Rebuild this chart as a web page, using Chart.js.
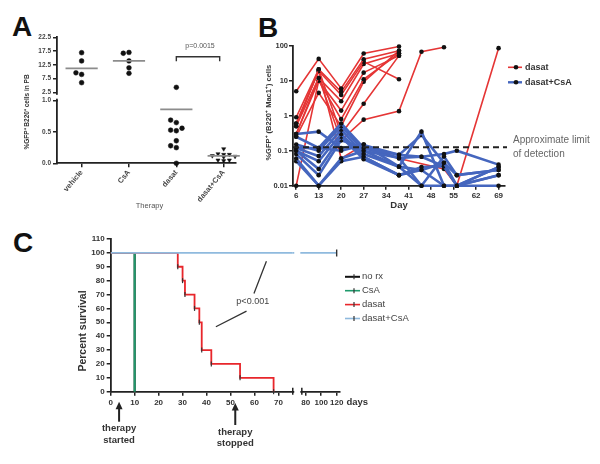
<!DOCTYPE html>
<html><head><meta charset="utf-8">
<script src="https://cdn.jsdelivr.net/npm/chart.js@4.4.0/dist/chart.umd.min.js"></script>
<style>
html,body{margin:0;padding:0;background:#fff;width:600px;height:464px;overflow:hidden;position:relative;font-family:"Liberation Sans",Arial,sans-serif;}
canvas{position:absolute;}
.lbl{position:absolute;font-weight:bold;font-size:28px;color:#111;line-height:1;}
</style></head><body>
<div class="lbl" style="left:12px;top:13px">A</div>
<div class="lbl" style="left:258px;top:14px">B</div>
<div class="lbl" style="left:13px;top:229px">C</div>
<canvas id="cA" width="245" height="225" style="left:0;top:0"></canvas>
<canvas id="cB" width="360" height="220" style="left:240px;top:0"></canvas>
<canvas id="cC" width="600" height="244" style="left:0;top:220px"></canvas>
<script>
// ---------- Panel A data ----------
const categoriesA = ['vehicle', 'CsA', 'dasat', 'dasat+CsA'];
const vehicleA = [16.9, 13.9, 9.0, 9.6, 6.0];
const csaA = [17.0, 16.7, 13.9, 11.4, 9.4];
const dasatA = [4.3, 0.65, 0.69, 0.52, 0.53, 0.56, 0.36, 0.25, 0.28, 0.0];
const dasatCsaA = [0.23, 0.15, 0.14, 0.14, 0.12, 0.11, 0.10, 0.05, 0.05, 0.04];
const meansA = [11.2, 13.9, 0.86, 0.12];
const yTicksHiA = [2.5, 7.5, 12.5, 17.5, 22.5];
const yTicksLoA = [0, 0.5, 1.0];
const pValueA = 'p=0.0015';

// ---------- Panel B data ----------
const daysB = [6, 13, 20, 27, 38, 45, 52, 56, 69];
const dayTicksB = [6, 13, 20, 27, 34, 41, 48, 55, 62, 69];
const yTicksB = [0.01, 0.1, 1, 10, 100];
const dasatMiceB = [
  [5, 42, 6, 60, 95, null, null, null, null],
  [0.9, 21, 4.8, 41, 72, null, null, null, null],
  [0.6, 19, 3.9, 35, 11, null, null, null, null],
  [0.5, 12, 2.6, 30, 60, null, null, null, null],
  [0.3, 10, 1.4, 17, 52, null, null, null, null],
  [0.01, 10, 0.8, 11, 60, null, null, null, null],
  [0.25, 4.5, 0.5, 9.3, 72, null, null, null, null],
  [0.5, 21, 0.3, 2.2, 52, null, null, null, null],
  [0.3, 12, 0.2, 0.77, 1.35, 67, 90, null, null],
  [0.6, 19, 0.06, 0.15, 0.06, null, 0.03, 0.01, 85]
];
const dasatCsaMiceB = [
  [0.3, 0.35, 0.12, 0.15, 0.035, 0.35, 0.01, 0.01, 0.02],
  [0.25, 0.12, 0.6, 0.12, 0.076, 0.28, 0.045, 0.01, 0.034],
  [0.15, 0.1, 0.5, 0.1, 0.062, 0.067, 0.08, 0.1, 0.04],
  [0.12, 0.07, 0.4, 0.08, 0.035, 0.01, 0.068, 0.02, 0.028],
  [0.1, 0.05, 0.3, 0.067, 0.02, 0.034, 0.036, 0.01, 0.01],
  [0.1, 0.03, 0.25, 0.057, 0.02, 0.028, 0.01, 0.01, 0.02],
  [0.08, 0.02, 0.2, 0.12, 0.062, 0.01, 0.01, null, null],
  [0.06, 0.01, 0.06, 0.1, 0.035, 0.028, 0.045, 0.02, 0.028],
  [0.05, 0.01, 0.05, 0.067, 0.02, null, null, null, null],
  [0.12, 0.12, 0.1, 0.145, 0.076, 0.067, 0.036, 0.01, 0.034]
];
const detectionLimitB = 0.125;
const legendB = ['dasat', 'dasat+CsA'];

// ---------- Panel C data ----------
const noRxDaysC = [0, 10];
const noRxSurvC = [100, 0];
const csaDaysC = [0, 10];
const csaSurvC = [100, 0];
const dasatDaysC = [0, 28, 30, 31, 35, 37, 38, 42, 54, 68];
const dasatSurvC = [100, 90, 80, 70, 60, 50, 30, 20, 10, 0];
const comboDaysC = [0, 120];
const comboSurvC = [100, 100];
const xTicks1C = [0, 10, 20, 30, 40, 50, 60, 70];
const xTicks2C = [80, 100, 120];
const legendC = ['no rx', 'CsA', 'dasat', 'dasat+CsA'];

const FF = "'Liberation Sans', Arial, sans-serif";
Chart.defaults.font.family = FF;
Chart.defaults.color = '#333';
Chart.defaults.animation = false;

const tickGrid = {display: true, drawOnChartArea: false, drawTicks: true, tickLength: 4, color: '#222', lineWidth: 1.5};
const border = {display: true, color: '#222', width: 1.8};

// ---------- Chart A ----------
const dsA = [];
[vehicleA, csaA, dasatA, dasatCsaA].forEach((vals, gi) => {
  const placed = [], hi = [], lo = [];
  vals.forEach(v => {
    const isHi = v > 1;
    const sep = isHi ? 2.0 : 0.085;
    let off = 0;
    for (const o of [0, -0.12, 0.12, -0.24, 0.24]) {
      if (!placed.some(p => p.hi === isHi && p.o === o && Math.abs(p.v - v) < sep)) { off = o; break; }
    }
    placed.push({hi: isHi, o: off, v});
    (isHi ? hi : lo).push({x: gi + 1 + off, y: v});
  });
  const st = {type: 'scatter', pointStyle: gi === 3 ? 'triangle' : 'circle', rotation: gi === 3 ? 180 : 0,
    pointRadius: 2.4, backgroundColor: '#111', borderColor: '#111', borderWidth: 0.5, clip: false};
  if (hi.length) dsA.push(Object.assign({}, st, {data: hi, yAxisID: 'yHi'}));
  if (lo.length) dsA.push(Object.assign({}, st, {data: lo, yAxisID: 'yLo'}));
  const m = meansA[gi];
  dsA.push({type: 'line', data: [{x: gi + 1 - 0.34, y: m}, {x: gi + 1 + 0.34, y: m}],
    yAxisID: m > 1 ? 'yHi' : 'yLo', borderColor: '#8c8c8c', borderWidth: 1.8, pointRadius: 0, clip: false, order: -1});
});

const pluginA = {
  id: 'annA',
  afterDraw(chart) {
    const {ctx, chartArea: ca, scales: {x, yHi, yLo}} = chart;
    ctx.save();
    // axis break
    const yb1 = yHi.getPixelForValue(yTicksHiA[0]) + 2.5;
    const yb2 = yLo.top - 2;
    ctx.fillStyle = '#fff';
    ctx.fillRect(ca.left - 3, yb1, 6, yb2 - yb1);
    // bracket and p value
    const x3 = x.getPixelForValue(3), x4 = x.getPixelForValue(4) - 4;
    const yTop = ca.top + 19.5, yTick = yTop + 4.5;
    ctx.strokeStyle = '#333'; ctx.lineWidth = 1.4;
    ctx.beginPath(); ctx.moveTo(x3, yTick); ctx.lineTo(x3, yTop); ctx.lineTo(x4, yTop); ctx.lineTo(x4, yTick); ctx.stroke();
    ctx.fillStyle = '#555'; ctx.font = '7px ' + FF; ctx.textAlign = 'center'; ctx.textBaseline = 'middle';
    ctx.fillText(pValueA, (x3 + x4) / 2 + 2, ca.top + 8.5);
    // x title
    ctx.font = '7.5px ' + FF; ctx.fillStyle = '#555';
    ctx.fillText('Therapy', (ca.left + ca.right) / 2 + 3, 205.7);
    // y title
    ctx.translate(ca.left - 30, 112); ctx.rotate(-Math.PI / 2);
    ctx.font = 'bold 6.5px ' + FF; ctx.fillStyle = '#333';
    ctx.fillText('%GFP\u207A B220\u207A cells in PB', 0, 0);
    ctx.restore();
  }
};

new Chart(document.getElementById('cA'), {
  type: 'scatter',
  data: {datasets: dsA},
  options: {
    responsive: false, animation: false,
    layout: {padding: {left: 20, top: 37.3, right: 9, bottom: 21.7}},
    plugins: {legend: {display: false}, tooltip: {enabled: false}},
    scales: {
      x: {type: 'linear', min: 0.48, max: 4.26,
        afterBuildTicks: s => { s.ticks = categoriesA.map((c, i) => ({value: i + 1})); },
        ticks: {callback: v => categoriesA[Math.round(v) - 1], minRotation: 50, maxRotation: 50, autoSkip: false,
          font: {size: 7.5, weight: 'bold'}, color: '#444', padding: 1},
        grid: tickGrid, border: border,
        afterFit: s => { s.height = 40; }},
      yLo: {type: 'linear', position: 'left', stack: 'a', stackWeight: 62.6, min: 0, max: 1.0,
        afterBuildTicks: s => { s.ticks = yTicksLoA.map(v => ({value: v})); },
        ticks: {callback: v => Number(v).toFixed(1), autoSkip: false, font: {size: 6.5, weight: 'bold'}, color: '#444', padding: 2},
        grid: tickGrid, border: border, afterFit: s => { s.width = 37; }},
      yHi: {type: 'linear', position: 'left', stack: 'a', stackWeight: 63.4, min: -0.55, max: 22.5,
        afterBuildTicks: s => { s.ticks = yTicksHiA.map(v => ({value: v})); },
        ticks: {callback: v => Number(v).toFixed(1), autoSkip: false, font: {size: 6.5, weight: 'bold'}, color: '#444', padding: 2},
        grid: tickGrid, border: border, afterFit: s => { s.width = 37; }}
    }
  },
  plugins: [pluginA]
});

// ---------- Chart B ----------
const RED = '#e53535', BLUE = '#4566be';
const mk = (vals) => daysB.map((d, i) => ({x: d, y: vals[i]})).filter(p => p.y !== null);
const dsB = [];
dasatCsaMiceB.forEach(v => dsB.push({data: mk(v), borderColor: BLUE, borderWidth: 2.6, order: 1}));
dasatMiceB.forEach(v => dsB.push({data: mk(v), borderColor: RED, borderWidth: 1.6, order: 2}));
dsB.forEach(d => Object.assign(d, {type: 'line', pointRadius: 2.3, pointBackgroundColor: '#111', pointBorderColor: '#111',
  pointBorderWidth: 0, tension: 0, spanGaps: true, clip: false}));

const pluginB = {
  id: 'annB',
  afterDraw(chart) {
    const {ctx, chartArea: ca, scales: {x, y}} = chart;
    ctx.save();
    const yl = y.getPixelForValue(detectionLimitB);
    ctx.strokeStyle = '#222'; ctx.lineWidth = 2; ctx.setLineDash([6, 4]);
    ctx.beginPath(); ctx.moveTo(ca.left, yl); ctx.lineTo(ca.right + 2, yl); ctx.stroke();
    ctx.setLineDash([]);
    ctx.fillStyle = '#666'; ctx.font = '10px ' + FF; ctx.textAlign = 'left'; ctx.textBaseline = 'middle';
    ctx.fillText('Approximate limit', ca.right + 8, yl - 6.6);
    ctx.fillText('of detection', ca.right + 8, yl + 7);
    // legend
    [RED, BLUE].forEach((c, i) => {
      const ly = 67.3 + i * 15;
      ctx.strokeStyle = c; ctx.lineWidth = i ? 2.4 : 1.6;
      ctx.beginPath(); ctx.moveTo(ca.right + 3, ly); ctx.lineTo(ca.right + 17, ly); ctx.stroke();
      ctx.fillStyle = '#111'; ctx.beginPath(); ctx.arc(ca.right + 11, ly, 2.3, 0, Math.PI * 2); ctx.fill();
      ctx.fillStyle = '#333'; ctx.font = 'bold 9px ' + FF;
      ctx.fillText(legendB[i], ca.right + 20, ly);
    });
    // titles
    ctx.textAlign = 'center';
    ctx.font = 'bold 9.5px ' + FF; ctx.fillStyle = '#333';
    ctx.fillText('Day', (ca.left + ca.right) / 2, 205);
    ctx.translate(ca.left - 24, 112.7); ctx.rotate(-Math.PI / 2);
    ctx.font = 'bold 7.5px ' + FF;
    ctx.fillText('%GFP\u207A (B220\u207A Mac1\u207A) cells', 0, 0);
    ctx.restore();
  }
};

new Chart(document.getElementById('cB'), {
  type: 'line',
  data: {datasets: dsB},
  options: {
    responsive: false, animation: false,
    layout: {padding: {left: 15, top: 45.7, right: 95, bottom: 4.3}},
    plugins: {legend: {display: false}, tooltip: {enabled: false}},
    scales: {
      x: {type: 'linear', min: 5, max: 71,
        afterBuildTicks: s => { s.ticks = dayTicksB.map(v => ({value: v})); },
        ticks: {font: {size: 8, weight: 'bold'}, color: '#333', padding: 1, maxRotation: 0, autoSkip: false},
        grid: tickGrid, border: border, afterFit: s => { s.height = 30; }},
      y: {type: 'logarithmic', min: 0.01, max: 100,
        afterBuildTicks: s => { s.ticks = yTicksB.map(v => ({value: v})); },
        ticks: {callback: v => String(v), autoSkip: false, font: {size: 7.5, weight: 'bold'}, color: '#333', padding: 1},
        grid: tickGrid, border: border, afterFit: s => { s.width = 38; }}
    }
  },
  plugins: [pluginB]
});

// ---------- Chart C ----------
const GREEN = '#1f9a6c', RED_C = '#e8262b', LBLUE = '#8fbade';
const kmC = (days, surv) => days.map((d, i) => ({x: d, y: surv[i]}));
const dsC = [
  {data: kmC(noRxDaysC, noRxSurvC), borderColor: '#111', borderWidth: 2, order: 4},
  {data: kmC(csaDaysC, csaSurvC), borderColor: GREEN, borderWidth: 2, order: 3},
  {data: kmC(dasatDaysC, dasatSurvC), borderColor: RED_C, borderWidth: 1.8, order: 2,
    pointStyle: 'line', rotation: 90, pointRadius: c => c.dataIndex === 0 ? 0 : 2.5, pointBorderColor: '#333', pointBorderWidth: 1.2},
  {data: kmC(comboDaysC, comboSurvC), borderColor: LBLUE, borderWidth: 1.8, order: 1},
  {data: kmC(comboDaysC, comboSurvC), borderColor: LBLUE, borderWidth: 1.8, order: 1, xAxisID: 'x2',
    pointStyle: 'line', rotation: 90, pointRadius: c => c.dataIndex === comboDaysC.length - 1 ? 3.5 : 0, pointBorderColor: '#333', pointBorderWidth: 1.4}
];
dsC.forEach(d => { d.type = 'line'; d.stepped = 'before'; d.clip = false; if (!d.xAxisID) d.xAxisID = 'x1'; if (d.pointRadius === undefined) d.pointRadius = 0; });
dsC[3].clip = 0; dsC[4].clip = 0;

const pluginC = {
  id: 'annC',
  afterDatasetsDraw(chart) {
    const {ctx, chartArea: ca, scales: {x1, x2}} = chart;
    const xa = x1.right, xb = x2.getPixelForValue(75);
    ctx.save();
    ctx.fillStyle = '#fff';
    ctx.fillRect(xa + 1.5, ca.top - 6, xb - xa - 3, ca.bottom - ca.top + 9);
    ctx.strokeStyle = '#222'; ctx.lineWidth = 1.5;
    ctx.beginPath();
    ctx.moveTo(xa, ca.bottom - 4); ctx.lineTo(xa, ca.bottom + 3);
    ctx.moveTo(xb, ca.bottom - 4); ctx.lineTo(xb, ca.bottom + 3);
    ctx.stroke();
    ctx.restore();
  },
  afterDraw(chart) {
    const {ctx, chartArea: ca, scales: {x1, y}} = chart;
    ctx.save();
    ctx.textAlign = 'left'; ctx.textBaseline = 'middle';
    ctx.fillStyle = '#333'; ctx.font = 'bold 9.5px ' + FF;
    ctx.fillText('days', 346.5, 182.3);
    // y title
    ctx.save();
    ctx.translate(82.7, 111); ctx.rotate(-Math.PI / 2); ctx.textAlign = 'center';
    ctx.font = 'bold 10.5px ' + FF; ctx.fillText('Percent survival', 0, 0);
    ctx.restore();
    // arrows
    ctx.strokeStyle = '#222'; ctx.fillStyle = '#222'; ctx.lineWidth = 2;
    const arrows = [[3.5, 181.7, 201.7, ['therapy', 'started']], [52, 183, 205, ['therapy', 'stopped']]];
    arrows.forEach(([d, yt, ye, txt]) => {
      const ax = x1.getPixelForValue(d);
      ctx.beginPath(); ctx.moveTo(ax, yt + 5); ctx.lineTo(ax, ye); ctx.stroke();
      ctx.beginPath(); ctx.moveTo(ax, yt); ctx.lineTo(ax - 3.5, yt + 7.5); ctx.lineTo(ax + 3.5, yt + 7.5); ctx.closePath(); ctx.fill();
      ctx.textAlign = 'center'; ctx.font = 'bold 9.5px ' + FF; ctx.fillStyle = '#333';
      ctx.fillText(txt[0], ax, ye + 7);
      ctx.fillText(txt[1], ax, ye + 18.5);
      ctx.fillStyle = '#222';
    });
    // p value annotation
    ctx.strokeStyle = '#333'; ctx.lineWidth = 1.3;
    ctx.beginPath();
    ctx.moveTo(x1.getPixelForValue(65), y.getPixelForValue(94)); ctx.lineTo(x1.getPixelForValue(59.8), y.getPixelForValue(70.8));
    ctx.moveTo(x1.getPixelForValue(56.7), y.getPixelForValue(58)); ctx.lineTo(x1.getPixelForValue(43.9), y.getPixelForValue(46.8));
    ctx.stroke();
    ctx.fillStyle = '#444'; ctx.font = '9px ' + FF; ctx.textAlign = 'center';
    ctx.fillText('p<0.001', x1.getPixelForValue(59.3), y.getPixelForValue(65));
    // legend
    const cols = ['#111', GREEN, RED_C, LBLUE];
    legendC.forEach((t, i) => {
      const ly = 56.8 + i * 13.9;
      ctx.strokeStyle = cols[i]; ctx.lineWidth = i === 0 ? 2 : 1.6;
      ctx.beginPath(); ctx.moveTo(345, ly); ctx.lineTo(360, ly); ctx.stroke();
      ctx.strokeStyle = '#333'; ctx.lineWidth = 1.2;
      ctx.beginPath(); ctx.moveTo(354, ly - 2.5); ctx.lineTo(354, ly + 2.5); ctx.stroke();
      ctx.fillStyle = '#444'; ctx.font = '9.5px ' + FF; ctx.textAlign = 'left';
      ctx.fillText(t, 362, ly);
    });
    ctx.restore();
  }
};

new Chart(document.getElementById('cC'), {
  type: 'line',
  data: {datasets: dsC},
  options: {
    responsive: false, animation: false,
    layout: {padding: {left: 70.7, top: 19, right: 260, bottom: 52.3}},
    plugins: {legend: {display: false}, tooltip: {enabled: false}},
    scales: {
      x1: {type: 'linear', position: 'bottom', stack: 'c', stackWeight: 182.3, min: 0, max: 76,
        afterBuildTicks: s => { s.ticks = xTicks1C.map(v => ({value: v})); },
        ticks: {font: {size: 8, weight: 'bold'}, color: '#333', padding: 2, maxRotation: 0, autoSkip: false},
        grid: tickGrid, border: border, afterFit: s => { s.height = 20; }},
      x2: {type: 'linear', position: 'bottom', stack: 'c', stackWeight: 47.3, min: 63.3, max: 124.3,
        afterBuildTicks: s => { s.ticks = xTicks2C.map(v => ({value: v})); },
        ticks: {font: {size: 8, weight: 'bold'}, color: '#333', padding: 2, maxRotation: 0, autoSkip: false},
        grid: tickGrid, border: border, afterFit: s => { s.height = 20; }},
      y: {type: 'linear', min: 0, max: 110,
        afterBuildTicks: s => { const t = []; for (let v = 0; v <= 110; v += 10) t.push({value: v}); s.ticks = t; },
        ticks: {autoSkip: false, font: {size: 8, weight: 'bold'}, color: '#333', padding: 2},
        grid: tickGrid, border: border, afterFit: s => { s.width = 40; }}
    }
  },
  plugins: [pluginC]
});
</script>
</body></html>
